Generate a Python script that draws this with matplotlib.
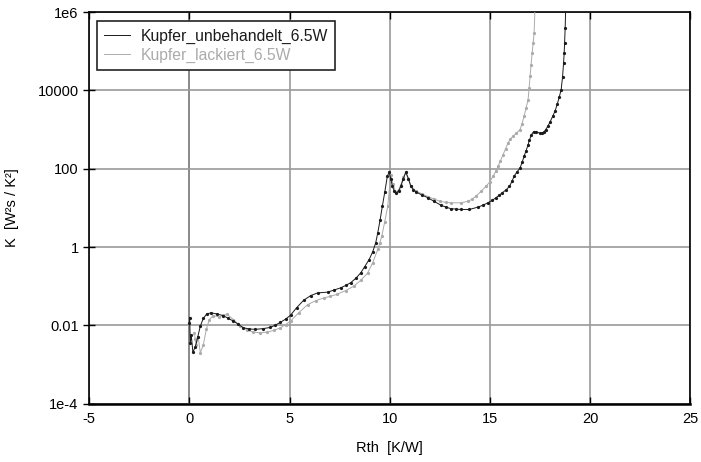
import numpy as np
import matplotlib
matplotlib.use("Agg")
import matplotlib.pyplot as plt

plt.rcParams['font.family'] = ['Liberation Sans', 'DejaVu Sans']
plt.rcParams['axes.unicode_minus'] = False

# Structure function: cumulative thermal resistance vs. cumulative capacitance (log10 K)
rth_unbehandelt = [0.0, 0.02, 0.05, 0.1, 0.18, 0.3, 0.42, 0.55, 0.7, 0.88, 1.1, 1.4, 1.7,
                   1.95, 2.2, 2.45, 2.7, 3.0, 3.3, 3.7, 4.05, 4.3, 4.55, 4.8, 5.05, 5.35,
                   5.7, 6.05, 6.4, 6.9, 7.2, 7.55, 7.8, 8.05, 8.3, 8.55, 8.75, 8.97, 9.15,
                   9.3, 9.4, 9.52, 9.63, 9.75, 9.88, 9.97, 10.05, 10.13, 10.23, 10.33,
                   10.45, 10.55, 10.68, 10.8, 10.93, 11.05, 11.18, 11.3, 11.6, 11.9, 12.2,
                   12.55, 12.8, 13.05, 13.3, 13.55, 13.97, 14.4, 14.65, 14.9, 15.1, 15.3,
                   15.45, 15.6, 15.8, 15.97, 16.1, 16.2, 16.35, 16.5, 16.6, 16.7, 16.8,
                   16.9, 16.97, 17.07, 17.18, 17.3, 17.47, 17.58, 17.68, 17.78, 17.88,
                   18.0, 18.13, 18.25, 18.35, 18.45, 18.55, 18.62, 18.67, 18.7, 18.72,
                   18.75, 18.78]
logk_unbehandelt = [-1.95, -1.8, -2.45, -2.25, -2.68, -2.55, -2.3, -2.02, -1.82, -1.70,
                    -1.68, -1.71, -1.75, -1.82, -1.89, -1.97, -2.06, -2.09, -2.10, -2.08,
                    -2.05, -1.99, -1.92, -1.84, -1.74, -1.55, -1.36, -1.24, -1.17, -1.15,
                    -1.10, -1.04, -0.98, -0.91, -0.80, -0.66, -0.50, -0.32, -0.12, 0.11,
                    0.36, 0.70, 1.04, 1.40, 1.81, 1.91, 1.75, 1.55, 1.43, 1.38, 1.44,
                    1.55, 1.75, 1.91, 1.75, 1.55, 1.46, 1.41, 1.33, 1.26, 1.17, 1.07,
                    1.02, 0.98, 0.97, 0.96, 0.96, 1.02, 1.07, 1.13, 1.19, 1.26, 1.32,
                    1.38, 1.46, 1.55, 1.68, 1.81, 1.92, 2.02, 2.16, 2.32, 2.46, 2.61,
                    2.74, 2.87, 2.95, 2.94, 2.91, 2.90, 2.93, 3.00, 3.08, 3.20, 3.34,
                    3.48, 3.64, 3.82, 4.02, 4.35, 4.70, 4.95, 5.21, 5.6, 6.2]

rth_lackiert = [0.25, 0.3, 0.35, 0.45, 0.55, 0.7, 0.85, 1.0, 1.2, 1.5, 1.7, 1.9, 2.2,
                2.55, 2.9, 3.2, 3.55, 3.9, 4.25, 4.55, 4.8, 5.05, 5.45, 5.9, 6.3, 6.7,
                7.0, 7.35, 7.8, 8.2, 8.55, 8.9, 9.15, 9.4, 9.5, 9.6, 9.75, 9.9, 10.05,
                10.15, 10.3, 10.45, 10.55, 10.68, 10.8, 10.93, 11.05, 11.3, 11.6, 11.9,
                12.2, 12.5, 12.8, 13.05, 13.55, 13.9, 14.1, 14.3, 14.55, 14.8, 15.0,
                15.15, 15.3, 15.4, 15.52, 15.65, 15.78, 15.9, 16.02, 16.15, 16.3, 16.5,
                16.6, 16.7, 16.8, 16.9, 16.95, 17.0, 17.05, 17.1, 17.15, 17.2, 17.25]
logk_lackiert = [-2.2, -2.35, -2.5, -2.3, -2.7, -2.5, -2.1, -1.85, -1.75, -1.78, -1.74,
                 -1.72, -1.85, -2.02, -2.12, -2.17, -2.19, -2.17, -2.12, -2.06, -1.98,
                 -1.89, -1.68, -1.47, -1.37, -1.30, -1.26, -1.21, -1.11, -1.0, -0.85,
                 -0.66, -0.40, -0.06, 0.10, 0.27, 0.65, 1.04, 1.85, 1.62, 1.40, 1.46,
                 1.58, 1.78, 1.91, 1.75, 1.57, 1.43, 1.36, 1.29, 1.23, 1.17, 1.14, 1.13,
                 1.13, 1.17, 1.22, 1.30, 1.42, 1.55, 1.67, 1.81, 1.94, 2.06, 2.20, 2.36,
                 2.51, 2.66, 2.76, 2.83, 2.90, 3.0, 3.15, 3.34, 3.55, 3.76, 4.05, 4.36,
                 4.65, 4.95, 5.2, 5.46, 6.2]

labels = ["Kupfer_unbehandelt_6.5W", "Kupfer_lackiert_6.5W"]
colors = ["#1a1a1a", "#ababab"]

fig = plt.figure(figsize=(7.01, 4.62), dpi=100)
ax = fig.add_axes([0.127, 0.126, 0.858, 0.848])

ax.plot(rth_unbehandelt, 10 ** np.array(logk_unbehandelt), color=colors[0], lw=0.7,
        marker='o', ms=1.3, label=labels[0], zorder=4)
ax.plot(rth_lackiert, 10 ** np.array(logk_lackiert), color=colors[1], lw=0.7,
        marker='o', ms=1.3, label=labels[1], zorder=3)

ax.set_yscale('log')
ax.set_xlim(-5, 25)
ax.set_ylim(1e-4, 1e6)
ax.set_xticks([-5, 0, 5, 10, 15, 20, 25])
yt = [1e-4, 1e-2, 1, 1e2, 1e4, 1e6]
ax.set_yticks(yt)
ax.set_yticklabels(["1e-4", "0.01", "1", "100", "10000", "1e6"])
ax.yaxis.set_minor_locator(matplotlib.ticker.NullLocator())

ax.grid(True, color='#9a9a9a', lw=1.2, zorder=0)
ax.axvline(0, color='#222222', lw=1.2, zorder=1)

ax.tick_params(axis='x', direction='in', top=True, length=5, width=1, labelsize=10.5, pad=6)
ax.tick_params(axis='y', direction='inout', length=8, width=1, labelsize=10.5)
for s in ax.spines.values():
    s.set_linewidth(1.2)
ax.spines['bottom'].set_linewidth(1.8)

ax.set_xlabel("Rth  [K/W]", fontsize=10.5, labelpad=11)
ax.set_ylabel("K  [W²s / K²]", fontsize=10.5, labelpad=13)

leg = ax.legend(loc='upper left', bbox_to_anchor=(0.006, 0.988), fontsize=11.3,
                frameon=True, fancybox=False, edgecolor='#222222', framealpha=1,
                handlelength=1.6, handletextpad=0.7, labelcolor='linecolor',
                borderpad=0.45, labelspacing=0.25, borderaxespad=0.3)
leg.get_frame().set_linewidth(1.2)
for h in leg.legend_handles:
    h.set_marker('')

fig.savefig("out.png", dpi=100)
